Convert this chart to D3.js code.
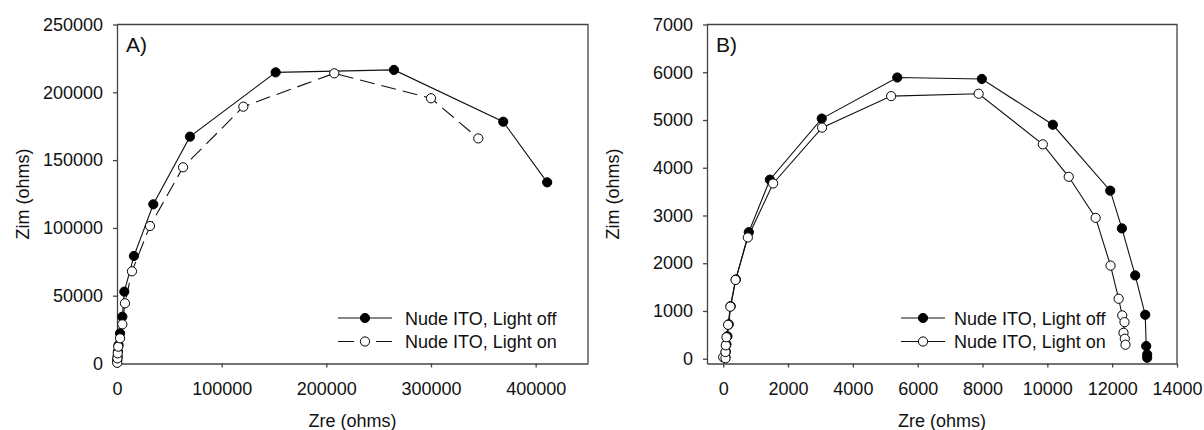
<!DOCTYPE html>
<html>
<head>
<meta charset="utf-8">
<script src="https://cdn.jsdelivr.net/npm/d3@7"></script>
<style>
  body { margin: 0; background: #ffffff; }
  svg text { font-family: 'Liberation Sans', Arial, sans-serif; fill: #111; }
  .axis path, .axis line { stroke: #444; stroke-width: 1.3; }
  .axis text { font-size: 18px; }
</style>
</head>
<body>
<div id="chart"></div>
<script>
// Panel A: impedance of nude ITO (large semicircle)
const aLightOff = [
  [300, 2500], [600, 5000], [900, 8700], [1500, 13600], [2900, 22300],
  [5100, 34500], [7000, 53000], [16200, 79300], [34700, 117400],
  [69700, 167300], [151600, 214700], [264600, 216500], [369000, 178300],
  [411000, 133600]
];
const aLightOn = [
  [200, 500], [400, 3800], [700, 7500], [1200, 12400], [2900, 18600],
  [5100, 28900], [7600, 44400], [14300, 68000], [31500, 101400],
  [63100, 144700], [120700, 189400], [207600, 214000], [300000, 195600],
  [345200, 166000]
];

// Panel B
const bLightOff = [
  [70, 30], [80, 150], [100, 300], [130, 470], [170, 720], [230, 1100],
  [390, 1660], [790, 2650], [1440, 3750], [3040, 5030], [5370, 5890],
  [7980, 5860], [10170, 4900], [11940, 3520], [12300, 2730], [12710, 1745],
  [13020, 920], [13050, 265], [13080, 90], [13080, 20]
];
const bLightOn = [
  [0, 30], [70, 10], [70, 140], [80, 280], [100, 450], [150, 710],
  [220, 1090], [380, 1650], [760, 2540], [1540, 3670], [3050, 4840],
  [5180, 5500], [7880, 5550], [9860, 4490], [10660, 3810], [11490, 2950],
  [11950, 1950], [12200, 1256], [12310, 907], [12380, 766], [12350, 544],
  [12390, 419], [12410, 293]
];

const seriesNames = ['Nude ITO, Light off', 'Nude ITO, Light on'];
const aXTicks = [0, 100000, 200000, 300000, 400000],
      aYTicks = [0, 50000, 100000, 150000, 200000, 250000];
const bXTicks = [0, 2000, 4000, 6000, 8000, 10000, 12000, 14000],
      bYTicks = [0, 1000, 2000, 3000, 4000, 5000, 6000, 7000];

const svg = d3.select('#chart').append('svg')
    .attr('width', 1204)
    .attr('height', 430);

const plotTop = 24.5, plotBottom = 363.5;

function drawPanel(p) {
  const xScale = d3.scaleLinear().domain(p.xDomain).range([p.left, p.right]),
        yScale = d3.scaleLinear().domain(p.yDomain).range([plotBottom, plotTop]);

  const g = svg.append('g');

  // frame on top and right
  g.append('path')
      .attr('d', 'M' + p.left + ',' + plotTop + 'H' + p.right + 'V' + plotBottom)
      .attr('fill', 'none')
      .attr('stroke', '#444')
      .attr('stroke-width', 1.3);

  g.append('g')
      .attr('class', 'axis')
      .attr('transform', 'translate(0,' + plotBottom + ')')
      .call(d3.axisBottom(xScale).tickValues(p.xTicks).tickFormat(d3.format('d'))
        .tickSize(4).tickSizeOuter(0).tickPadding(15));

  g.append('g')
      .attr('class', 'axis')
      .attr('transform', 'translate(' + p.left + ',0)')
      .call(d3.axisLeft(yScale).tickValues(p.yTicks).tickFormat(d3.format('d'))
        .tickSize(4).tickSizeOuter(0).tickPadding(10));

  g.append('text')
      .attr('x', (p.left + p.right) / 2)
      .attr('y', 427)
      .style('font-size', '18px')
      .style('text-anchor', 'middle')
      .text('Zre (ohms)');

  g.append('text')
      .attr('transform', 'translate(' + (p.left - 88.5) + ',' + ((plotTop + plotBottom) / 2) + ') rotate(-90)')
      .style('font-size', '18px')
      .style('text-anchor', 'middle')
      .text('Zim (ohms)');

  g.append('text')
      .attr('x', p.left + 9)
      .attr('y', 51.5)
      .style('font-size', '21px')
      .text(p.tag);

  const line = d3.line()
      .x(function(d) { return xScale(d[0]); })
      .y(function(d) { return yScale(d[1]); });

  p.series.forEach(function(s, i) {
    g.append('path')
        .datum(s)
        .attr('fill', 'none')
        .attr('stroke', '#111')
        .attr('stroke-width', 1.1)
        .attr('stroke-dasharray', p.dashes[i])
        .attr('d', line);
  });

  p.series.forEach(function(s, i) {
    g.selectAll(null)
        .data(s)
      .enter().append('circle')
        .attr('r', 4.6)
        .attr('fill', i === 0 ? '#000' : '#fff')
        .attr('stroke', '#000')
        .attr('stroke-width', 1)
        .attr('cx', function(d) { return xScale(d[0]); })
        .attr('cy', function(d) { return yScale(d[1]); });
  });

  // legend
  const rows = [318, 341.5];
  seriesNames.forEach(function(name, i) {
    g.append('line')
        .attr('x1', p.legend.x1).attr('x2', p.legend.x2)
        .attr('y1', rows[i]).attr('y2', rows[i])
        .attr('stroke', '#111')
        .attr('stroke-width', 1.1)
        .attr('stroke-dasharray', p.legendDashes[i]);
    g.append('circle')
        .attr('cx', (p.legend.x1 + p.legend.x2) / 2)
        .attr('cy', rows[i])
        .attr('r', 4.6)
        .attr('fill', i === 0 ? '#000' : '#fff')
        .attr('stroke', '#000');
    g.append('text')
        .attr('x', p.legend.tx)
        .attr('y', rows[i] + 6.5)
        .style('font-size', '18px')
        .text(name);
  });
}

drawPanel({
  tag: 'A)',
  left: 117, right: 588,
  xDomain: [0, 450000], yDomain: [0, 250000],
  xTicks: aXTicks, yTicks: aYTicks,
  series: [aLightOff, aLightOn],
  dashes: [null, '15,7'],
  legendDashes: [null, '16,22'],
  legend: {x1: 338, x2: 392, tx: 405}
});

drawPanel({
  tag: 'B)',
  left: 707, right: 1177,
  xDomain: [-500, 14000], yDomain: [-100, 7000],
  xTicks: bXTicks, yTicks: bYTicks,
  series: [bLightOff, bLightOn],
  dashes: [null, null],
  legendDashes: [null, null],
  legend: {x1: 901, x2: 945, tx: 954}
});
</script>
</body>
</html>
